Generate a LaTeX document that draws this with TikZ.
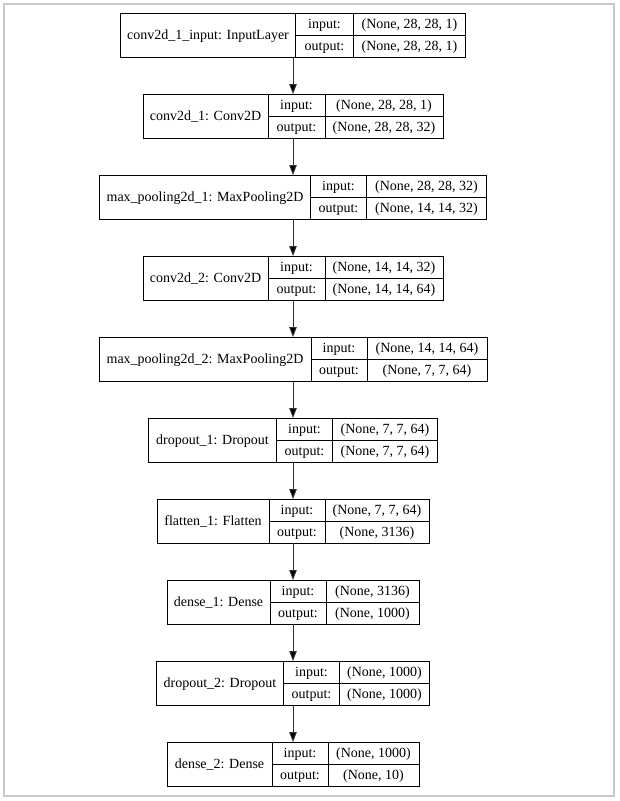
\documentclass[tikz,border=0pt]{standalone}
\usepackage{fontspec}
\setmainfont{Liberation Serif}
\usetikzlibrary{arrows.meta}
\tikzset{
  recbox/.style={draw, line width=0.9pt, minimum height=44pt, inner sep=0pt, outer sep=0pt, anchor=north},
  divline/.style={line width=0.9pt},
  celltxt/.style={font=\fontsize{14}{16}\selectfont, inner sep=0pt, text height=11pt, text depth=2.5pt},
  edge/.style={draw=black!80, line width=0.9pt, -{Triangle[length=10pt,width=7.5pt,fill=black]}},
  frame/.style={draw=black!22, line width=1.6pt}
}
% name, top, a, b, c, label, in, out
\newcommand\layerrec[8]{%
  \node[recbox, minimum width={#3+#4+#5}] (#1) at (293,#2) {};
  \draw[divline] (#1.north west) ++(#3,0) -- ++(0,44);
  \draw[divline] (#1.north west) ++({#3+#4},0) -- ++(0,44);
  \draw[divline] (#1.north west) ++(#3,22) -- (#1.east);
  \path (#1.north west) ++({#3/2},22) node[celltxt] (#1-name) {#6};
  \path (#1.north west) ++({#3+#4/2},11) node[celltxt] (#1-inl) {input:};
  \path (#1.north west) ++({#3+#4/2},33) node[celltxt] (#1-outl) {output:};
  \path (#1.north west) ++({#3+#4+#5/2},11) node[celltxt] (#1-inv) {#7};
  \path (#1.north west) ++({#3+#4+#5/2},33) node[celltxt] (#1-outv) {#8};
}
\begin{document}
\begin{tikzpicture}[x=1pt,y=-1pt]
\useasboundingbox (0,0) rectangle (619,801);
\draw[frame] (4,4) rectangle (614,796);
\layerrec{L1}{13}{175}{58}{112}{conv2d\_1\_input: InputLayer}{(None, 28, 28, 1)}{(None, 28, 28, 1)}
\layerrec{L2}{94}{125}{57}{118}{conv2d\_1: Conv2D}{(None, 28, 28, 1)}{(None, 28, 28, 32)}
\layerrec{L3}{175}{211}{56}{120}{max\_pooling2d\_1: MaxPooling2D}{(None, 28, 28, 32)}{(None, 14, 14, 32)}
\layerrec{L4}{256}{125}{57}{118}{conv2d\_2: Conv2D}{(None, 14, 14, 32)}{(None, 14, 14, 64)}
\layerrec{L5}{337}{212}{56}{120}{max\_pooling2d\_2: MaxPooling2D}{(None, 14, 14, 64)}{(None, 7, 7, 64)}
\layerrec{L6}{418}{128}{56}{105}{dropout\_1: Dropout}{(None, 7, 7, 64)}{(None, 7, 7, 64)}
\layerrec{L7}{499}{112}{56}{104}{flatten\_1: Flatten}{(None, 7, 7, 64)}{(None, 3136)}
\layerrec{L8}{580}{103}{56}{93}{dense\_1: Dense}{(None, 3136)}{(None, 1000)}
\layerrec{L9}{661}{127}{56}{90}{dropout\_2: Dropout}{(None, 1000)}{(None, 1000)}
\layerrec{L10}{742}{105}{56}{91}{dense\_2: Dense}{(None, 1000)}{(None, 10)}
\foreach \a/\b in {L1/L2,L2/L3,L3/L4,L4/L5,L5/L6,L6/L7,L7/L8,L8/L9,L9/L10}
  \draw[edge] (\a.south) -- (\b.north);
\end{tikzpicture}
\end{document}
